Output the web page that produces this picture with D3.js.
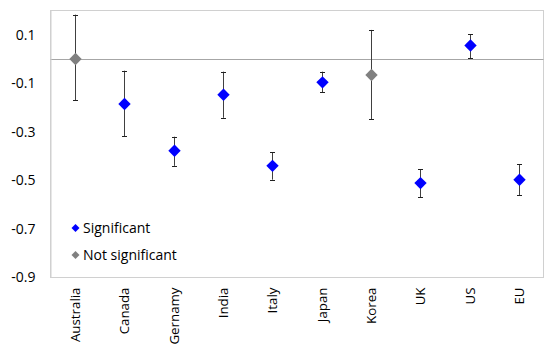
<!DOCTYPE html>
<html>
<head>
<meta charset="utf-8">
<script src="https://cdn.jsdelivr.net/npm/d3@7"></script>
<style>
html,body{margin:0;padding:0;background:#fff;}
svg{display:block;font-family:"Open Sans","Noto Sans",sans-serif;}
</style>
</head>
<body>
<svg id="chart" width="544" height="346"></svg>
<script>
const categories = ["Australia","Canada","Gernamy","India","Italy","Japan","Korea","UK","US","EU"];
const estimates  = [0.0, -0.185, -0.378, -0.147, -0.44, -0.096, -0.066, -0.511, 0.056, -0.497];
const upper      = [0.183, -0.048, -0.32, -0.052, -0.383, -0.052, 0.12, -0.453, 0.103, -0.433];
const lower      = [-0.17, -0.317, -0.44, -0.242, -0.497, -0.137, -0.247, -0.569, 0.004, -0.56];
const significant = [false, true, true, true, true, true, false, true, true, true];
const yTicks = [0.1, -0.1, -0.3, -0.5, -0.7, -0.9];
const legendLabels = ["Significant", "Not significant"];

const svg = d3.select("#chart");
const m = {left: 50.5, right: 543.5, top: 10.5, bottom: 277.5};
const FS = 14;

const x = d3.scaleBand().domain(categories).range([m.left, m.right]);
const y = d3.scaleLinear().domain([-0.9, 0.2]).range([m.bottom, m.top]);

const colSig = "#0000ff", colNs = "#808080";

// plot border
svg.append("rect").attr("x", m.left).attr("y", m.top)
  .attr("width", m.right - m.left).attr("height", m.bottom - m.top)
  .attr("fill", "none").attr("stroke", "#d0d0d0").attr("stroke-width", 1);

// zero line
svg.append("line").attr("x1", m.left).attr("x2", m.right)
  .attr("y1", Math.round(y(0)) + 0.5).attr("y2", Math.round(y(0)) + 0.5)
  .attr("stroke", "#a6a6a6").attr("stroke-width", 1);

// y axis labels
const yAxis = d3.axisLeft(y).tickValues(yTicks).tickSize(0).tickPadding(15)
  .tickFormat(d => d3.format(".1f")(d).replace("−", "-"));
const gy = svg.append("g").attr("transform", `translate(${m.left},0)`).call(yAxis);
gy.select(".domain").attr("stroke", "#d0d0d0");
gy.selectAll("text").attr("font-size", FS).attr("fill", "#000")
  .attr("font-family", "'Open Sans','Noto Sans',sans-serif");

// x axis labels
const xAxis = d3.axisBottom(x).tickSize(0).tickPadding(0);
const gx = svg.append("g").attr("transform", `translate(0,${m.bottom})`).call(xAxis);
gx.select(".domain").remove();
gx.selectAll("text")
  .attr("font-size", 13.3).attr("fill", "#000")
  .attr("font-family", "'Open Sans','Noto Sans',sans-serif")
  .attr("text-anchor", "end")
  .attr("dy", null)
  .attr("transform", "translate(5,10) rotate(-90)")
  .attr("x", 0).attr("y", 0);

const data = categories.map((c, i) => ({c, v: estimates[i], hi: upper[i], lo: lower[i], s: significant[i]}));

// error bars
const eb = svg.append("g");
data.forEach(d => {
  const cx = Math.round(x(d.c) + x.bandwidth() / 2) + 0.5;
  eb.append("line").attr("x1", cx).attr("x2", cx).attr("y1", y(d.hi)).attr("y2", y(d.lo))
    .attr("stroke", "#404040").attr("stroke-width", 1);
  [d.hi, d.lo].forEach(val => {
    eb.append("line").attr("x1", cx - 2.5).attr("x2", cx + 2.5)
      .attr("y1", Math.round(y(val)) + 0.5).attr("y2", Math.round(y(val)) + 0.5)
      .attr("stroke", "#202020").attr("stroke-width", 1);
  });
});

// markers
const diamond = r => `M0,${-r}L${r},0L0,${r}L${-r},0Z`;
svg.append("g").selectAll("path").data(data).join("path")
  .attr("d", diamond(6.2))
  .attr("transform", d => `translate(${Math.round(x(d.c) + x.bandwidth() / 2) + 0.5},${y(d.v)})`)
  .attr("fill", d => d.s ? colSig : colNs);

// legend
const lg = svg.append("g");
legendLabels.forEach((lab, i) => {
  const ly = 228 + i * 27;
  lg.append("path").attr("d", diamond(4)).attr("transform", `translate(75.5,${ly})`)
    .attr("fill", i === 0 ? colSig : colNs);
  lg.append("text").attr("x", 83).attr("y", ly).attr("dy", "0.35em")
    .attr("font-size", FS).attr("fill", "#000").text(lab);
});
</script>
</body>
</html>
